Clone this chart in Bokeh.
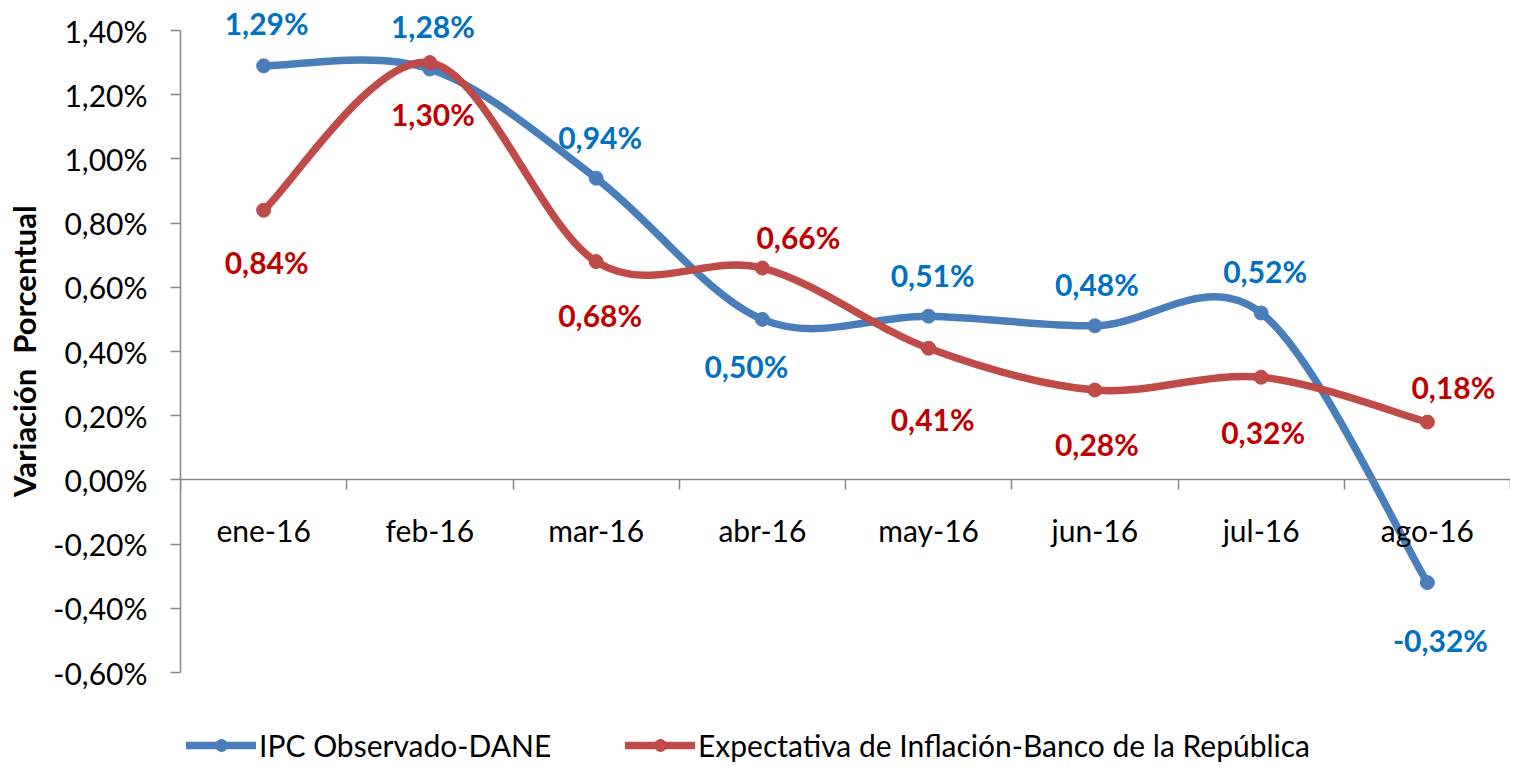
import numpy as np
from bokeh.plotting import figure
from bokeh.models import (ColumnDataSource, FixedTicker, LinearAxis, Range1d,
                          Legend, LegendItem)
from bokeh.core.properties import value
from bokeh.embed import file_html
from bokeh.resources import INLINE

# ---------------- data ----------------
months = ["ene-16", "feb-16", "mar-16", "abr-16", "may-16", "jun-16", "jul-16", "ago-16"]
ipc_observado = [1.29, 1.28, 0.94, 0.50, 0.51, 0.48, 0.52, -0.32]
expectativa = [0.84, 1.30, 0.68, 0.66, 0.41, 0.28, 0.32, 0.18]
y_ticks = [-0.6, -0.4, -0.2, 0.0, 0.2, 0.4, 0.6, 0.8, 1.0, 1.2, 1.4]
y_tick_labels = ["-0,60%", "-0,40%", "-0,20%", "0,00%", "0,20%", "0,40%",
                 "0,60%", "0,80%", "1,00%", "1,20%", "1,40%"]
series_names = ["IPC Observado-DANE", "Expectativa de Inflación-Banco de la República"]
axis_title = "Variación\u00a0\u00a0Porcentual"

# ---------------- layout / style (not data) ----------------
FONT = value("Lato")
BLUE_LINE, RED_LINE = "#4A7EBB", "#BE4B48"
BLUE_TXT, RED_TXT = "#0070C0", "#C00000"
AXIS_GREY = "#868686"
# label offsets in screen pixels (dx, dy)
blue_dx = [3, 3, 4, -16, 4, 2, 4, 13]
blue_dy = [-43, -43, -41, 47, -41, -42, -42, 57]
red_dx = [3, 3, 4, 36, 4, 2, 2, 26]
red_dy = [52, 51, 53, -31, 71, 54, 55, -35]
# padding that shifts the rotated axis title up along the axis
title_pad = "\u00a0" * 9

positions = [i + 1 for i in range(len(months))]
boundaries = [i + 0.5 for i in range(len(months) + 1)]


def fmt(v):
    return ("%.2f" % v).replace(".", ",") + "%"


def smooth_segments(xs, ys, t=1.0 / 6.0):
    n = len(xs)
    out = {k: [] for k in ("x0", "y0", "x1", "y1", "cx0", "cy0", "cx1", "cy1")}
    for i in range(n - 1):
        im = max(i - 1, 0)
        ip = min(i + 2, n - 1)
        out["x0"].append(xs[i]); out["y0"].append(ys[i])
        out["x1"].append(xs[i + 1]); out["y1"].append(ys[i + 1])
        out["cx0"].append(xs[i] + (xs[i + 1] - xs[im]) * t)
        out["cy0"].append(ys[i] + (ys[i + 1] - ys[im]) * t)
        out["cx1"].append(xs[i + 1] - (xs[ip] - xs[i]) * t)
        out["cy1"].append(ys[i + 1] - (ys[ip] - ys[i]) * t)
    return out


H = 768
# y scale: 1.40 at y=30, -0.60 at y=672 ; frame covers 0..H
ppu = (672 - 30) / 2.0
y_hi = 1.4 + 30 / ppu
y_lo = -0.6 - (H - 672) / ppu

p = figure(width=1510, height=H,
           x_range=Range1d(0.5, 8.5), y_range=Range1d(y_lo, y_hi),
           output_backend="svg", toolbar_location=None,
           x_axis_location=None, y_axis_location="left",
           min_border_left=180, min_border_right=0,
           min_border_top=0, min_border_bottom=0)
p.grid.visible = False
p.outline_line_color = None
p.background_fill_color = "white"

# y axis
ya = p.yaxis[0]
ya.ticker = FixedTicker(ticks=y_ticks)
ya.major_label_overrides = {t: l for t, l in zip(y_ticks, y_tick_labels)}
ya.bounds = (y_ticks[0], y_ticks[-1])
ya.axis_line_color = AXIS_GREY
ya.axis_line_width = 1.5
ya.major_tick_line_color = AXIS_GREY
ya.major_tick_line_width = 1.5
ya.major_tick_in = 0
ya.major_tick_out = 10
ya.minor_tick_line_color = None
ya.major_label_standoff = 23
ya.major_label_text_font = "Lato"
ya.major_label_text_font_size = "30px"
ya.major_label_text_color = "black"
ya.axis_label = title_pad + axis_title
ya.axis_label_text_font = "Lato"
ya.axis_label_text_font_style = "bold"
ya.axis_label_text_font_size = "31px"
ya.axis_label_text_color = "black"
ya.axis_label_standoff = 7

# x axis crossing at zero: boundary ticks
ax_ticks = LinearAxis(ticker=FixedTicker(ticks=boundaries), fixed_location=0,
                      major_label_overrides={b: "" for b in boundaries},
                      axis_line_color=AXIS_GREY, axis_line_width=1.5,
                      major_tick_line_color=AXIS_GREY, major_tick_line_width=1.5,
                      major_tick_in=0, major_tick_out=10,
                      minor_tick_line_color=None)
# category labels
ax_labels = LinearAxis(ticker=FixedTicker(ticks=positions), fixed_location=0,
                       major_label_overrides={x: m for x, m in zip(positions, months)},
                       axis_line_color=None, major_tick_line_color=None,
                       major_tick_in=0, major_tick_out=0,
                       minor_tick_line_color=None,
                       major_label_standoff=32,
                       major_label_text_font="Lato",
                       major_label_text_font_size="30px",
                       major_label_text_color="black")
p.add_layout(ax_ticks, "below")
p.add_layout(ax_labels, "below")

# series
renderers = []
for vals, lc in ((ipc_observado, BLUE_LINE), (expectativa, RED_LINE)):
    seg = ColumnDataSource(smooth_segments(positions, vals))
    b = p.bezier(x0="x0", y0="y0", x1="x1", y1="y1", cx0="cx0", cy0="cy0",
                 cx1="cx1", cy1="cy1", source=seg, line_color=lc,
                 line_width=7.5, line_cap="round")
    s = p.scatter(positions, vals, size=14, fill_color=lc, line_color=lc)
    renderers.append((b, s))

for vals, tc, dx, dy in ((ipc_observado, BLUE_TXT, blue_dx, blue_dy),
                         (expectativa, RED_TXT, red_dx, red_dy)):
    src = ColumnDataSource(dict(x=positions, y=vals, t=[fmt(v) for v in vals],
                                dx=dx, dy=dy))
    p.text(x="x", y="y", text="t", x_offset="dx", y_offset="dy", source=src,
           text_align="center", text_baseline="middle", text_font=FONT,
           text_font_style="bold", text_font_size="30px", text_color=tc)

legend = Legend(items=[LegendItem(label=series_names[0], renderers=list(renderers[0])),
                       LegendItem(label=series_names[1], renderers=list(renderers[1]))],
                orientation="horizontal", location=(6, 5),
                glyph_width=70, glyph_height=30, label_height=30,
                label_standoff=3, label_width=366, spacing=0,
                padding=0, margin=0, border_line_color=None,
                background_fill_alpha=0,
                label_text_font="Lato", label_text_font_size="30px",
                label_text_color="black")
p.add_layout(legend, "center")

open("out.html", "w").write(file_html(p, INLINE))
